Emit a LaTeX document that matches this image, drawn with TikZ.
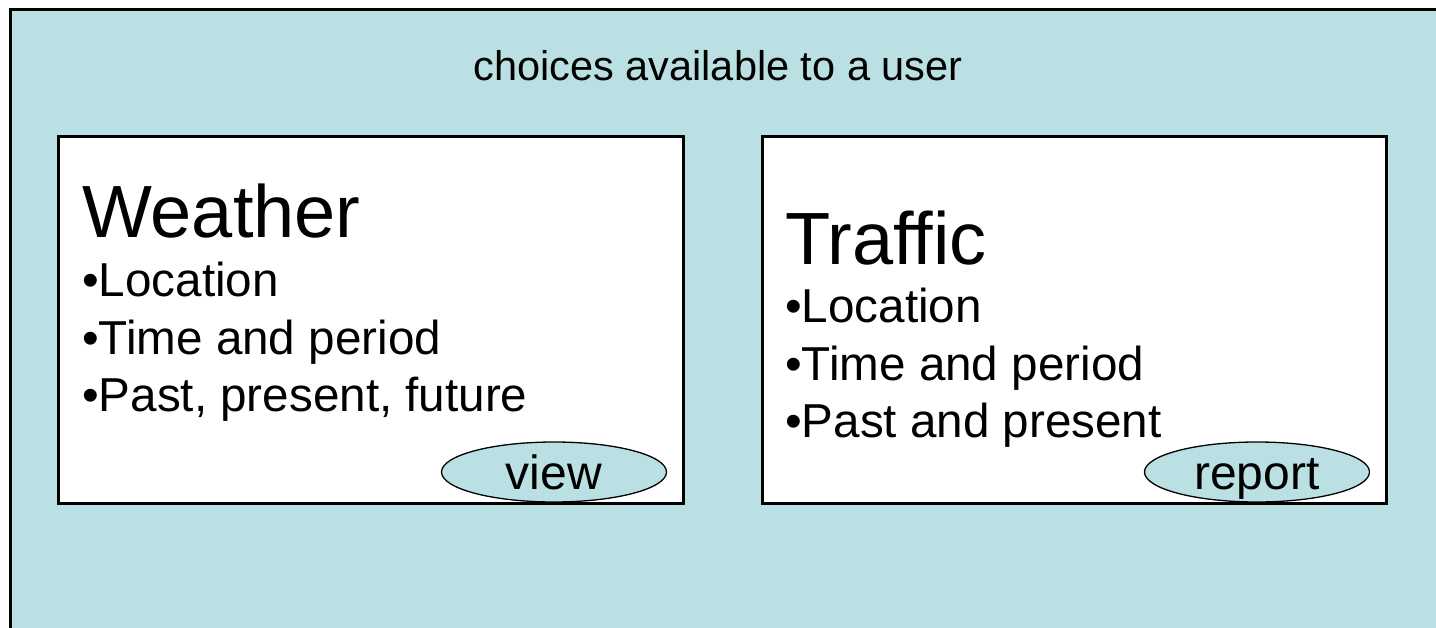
\documentclass[tikz,border=0pt]{standalone}
\usepackage{fontspec}
\setmainfont[Ligatures=NoCommon]{Liberation Sans}
\usetikzlibrary{shapes.geometric}
\definecolor{bgblue}{RGB}{186,224,227}
\tikzset{
  panel/.style={draw=black, line width=3pt, fill=white},
  heading/.style={anchor=base west, inner sep=0pt, font=\fontsize{74}{88}\selectfont},
  item/.style={anchor=base west, inner sep=0pt, font=\fontsize{47.6}{57}\selectfont},
  oval/.style={ellipse, draw=black, line width=1.3pt, fill=bgblue, inner sep=0pt,
    minimum width=225pt, minimum height=60pt, text height=35pt, text depth=0pt,
    font=\fontsize{48}{57}\selectfont}
}
\begin{document}
\begin{tikzpicture}[x=1pt,y=-1pt]
\useasboundingbox (0,0) rectangle (1436,628);
\begin{scope}
\clip (0,0) rectangle (1436,628);
\draw[draw=black, line width=3pt, fill=bgblue] (10.5,9.5) rectangle (1460,660);
\end{scope}
\node[anchor=base, inner sep=0pt, font=\fontsize{41.5}{49}\selectfont] (title) at (718,81) {choices available to a user};
% left panel
\draw[panel] (58,137) rectangle (683,503);
\node[heading] (weather) at (82,238) {Weather};
\node[item] (w1) at (82,297) {•Location};
\node[item] (w2) at (82,355) {•Time and period};
\node[item] (w3) at (82,412) {•Past, present, future};
\node[oval] (view) at (554,472) {view};
% right panel
\draw[panel] (762,137) rectangle (1386,503);
\node[heading] (traffic) at (785,265) {Traffic};
\node[item] (t1) at (785,323) {•Location};
\node[item] (t2) at (785,381) {•Time and period};
\node[item] (t3) at (785,438) {•Past and present};
\node[oval] (report) at (1257,472) {report};
\end{tikzpicture}
\end{document}
